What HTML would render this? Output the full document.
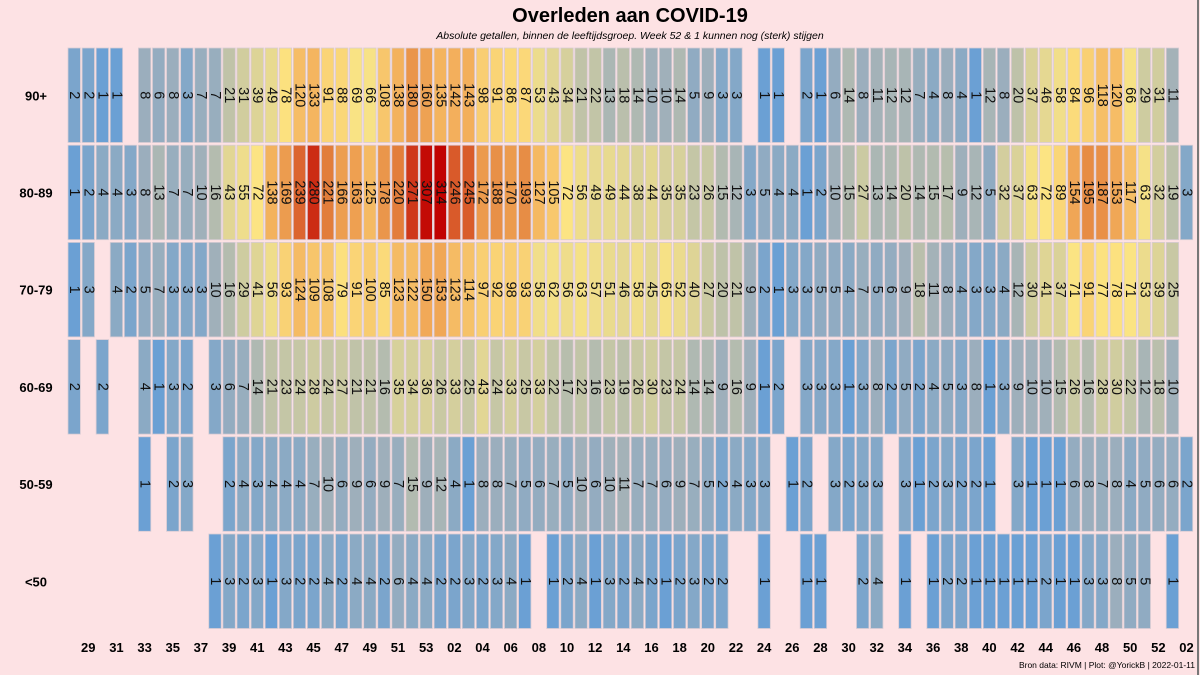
<!DOCTYPE html>
<html><head><meta charset="utf-8"><style>
html,body{margin:0;padding:0;background:#fde2e4;}
svg{display:block;font-family:"Liberation Sans",sans-serif;}
</style></head><body>
<svg id="chart" width="1200" height="675" viewBox="0 0 1200 675">
<rect x="0" y="0" width="1200" height="675" fill="#fde2e4"/>
<line x1="1198" y1="0" x2="1198" y2="675" stroke="#777" stroke-width="2"/>
<text x="630" y="22" text-anchor="middle" font-size="20" font-weight="bold">Overleden aan COVID-19</text>
<text x="630" y="39" text-anchor="middle" font-size="10.5" font-style="italic">Absolute getallen, binnen de leeftijdsgroep. Week 52 &amp; 1 kunnen nog (sterk) stijgen</text>
<text x="1195" y="668" text-anchor="end" font-size="8.5">Bron data: RIVM | Plot: @YorickB |  2022-01-11</text>
<g id="cells"></g>
<g id="labels"></g>
</svg>
<script>
const N = null;
const weeks = [28,29,30,31,32,33,34,35,36,37,38,39,40,41,42,43,44,45,46,47,48,49,50,51,52,53,
 1,2,3,4,5,6,7,8,9,10,11,12,13,14,15,16,17,18,19,20,21,22,23,24,25,26,27,28,29,30,31,32,33,34,35,36,37,38,39,40,41,42,43,44,45,46,47,48,49,50,51,52,1,2];
const ageGroups = ["90+","80-89","70-79","60-69","50-59","<50"];
const row90 = [2,2,1,1,N,8,6,8,3,7,7,21,31,39,49,78,120,133,91,88,69,66,108,138,180,160,
 135,142,143,98,91,86,87,53,43,34,21,22,13,18,14,10,10,14,5,9,3,3,N,1,1,N,2,1,6,14,8,11,12,12,7,4,8,4,1,12,8,20,37,46,58,84,96,118,120,66,29,31,11,N];
const row80 = [1,2,4,4,3,8,13,7,7,10,16,43,55,72,138,169,239,280,221,166,163,125,178,220,271,307,
 314,246,245,172,188,170,193,127,105,72,56,49,49,44,38,44,35,35,23,26,15,12,3,5,4,4,1,2,10,15,27,13,14,20,14,15,17,9,12,5,32,37,63,72,89,154,195,187,153,117,63,32,19,3];
const row70 = [1,3,N,4,2,5,7,3,3,3,10,16,29,41,56,93,124,109,108,79,91,100,85,123,122,150,
 153,123,114,97,92,98,93,58,62,56,63,57,51,46,58,45,65,52,40,27,20,21,9,2,1,3,3,5,5,4,7,5,6,9,18,11,8,4,3,3,4,12,30,41,37,71,91,77,78,71,53,39,25,N];
const row60 = [2,N,2,N,N,4,1,3,2,N,3,6,7,14,21,23,24,28,24,27,21,21,16,35,34,36,
 26,33,25,43,24,33,25,33,22,17,22,16,23,19,26,30,23,24,14,14,9,16,9,1,2,N,3,3,3,1,3,8,2,5,2,4,5,3,8,1,3,9,10,10,15,26,16,28,30,22,12,18,10,N];
const row50 = [N,N,N,N,N,1,N,2,3,N,N,2,4,3,4,4,4,7,10,6,9,6,9,7,15,9,
 12,4,1,8,8,7,5,6,7,5,10,6,10,11,7,7,6,9,7,5,2,4,3,3,N,1,2,N,3,2,3,3,N,3,1,2,3,2,2,1,N,3,1,1,1,6,8,7,8,4,5,6,6,2];
const rowU50 = [N,N,N,N,N,N,N,N,N,N,1,3,2,3,1,3,2,2,4,2,4,4,2,6,4,4,
 2,2,3,2,3,4,1,N,1,2,4,1,3,2,4,2,1,2,3,2,2,N,N,1,N,N,1,1,N,N,2,4,N,1,N,1,2,2,1,1,1,1,1,2,1,1,3,3,8,5,5,N,1,N];
const seriesRows = [row90,row80,row70,row60,row50,rowU50];

const NS="http://www.w3.org/2000/svg";
const x0=68, pitch=14.08, barW=12.4, y0=48, rowPitch=97.2, barH=94.5;
function xPos(i){return x0+i*pitch;}
function yPos(r){return y0+r*rowPitch;}
const stops=[[0,[107,160,212]],[1,[160,176,186]],[1.5,[210,206,158]],[1.87,[253,229,130]],[2.15,[243,176,92]],[2.35,[226,124,58]],[2.5,[192,0,0]]];
function color(v){
  const l=Math.log10(v);
  for(let k=1;k<stops.length;k++){
    if(l<=stops[k][0]||k===stops.length-1){
      const a=stops[k-1],b=stops[k];
      let t=(l-a[0])/(b[0]-a[0]); t=Math.max(0,Math.min(1,t));
      const c=a[1].map((q,j)=>Math.round(q+(b[1][j]-q)*t));
      return `rgb(${c[0]},${c[1]},${c[2]})`;
    }
  }
}
const cells=document.getElementById('cells');
const labels=document.getElementById('labels');
seriesRows.forEach((row,r)=>{
  const lab=document.createElementNS(NS,'text');
  
  
  lab.setAttribute('x',36);lab.setAttribute('y',yPos(r)+barH/2+5);
  lab.setAttribute('text-anchor','middle');lab.setAttribute('font-size','13');lab.setAttribute('font-weight','bold');
  lab.textContent=ageGroups[r];labels.appendChild(lab);
  row.forEach((v,i)=>{
    if(v===null) return;
    const rc=document.createElementNS(NS,'rect');
    
    
    rc.setAttribute('x',xPos(i));rc.setAttribute('y',yPos(r));
    rc.setAttribute('width',barW);rc.setAttribute('height',barH);
    rc.setAttribute('fill',color(v));rc.setAttribute('stroke','#d8ccd4');rc.setAttribute('stroke-width','0.8');
    cells.appendChild(rc);
    const cx=xPos(i)+barW/2, cy=yPos(r)+barH/2;
    const t=document.createElementNS(NS,'text');
    
    
    t.setAttribute('x',cx);t.setAttribute('y',cy);
    t.setAttribute('text-anchor','middle');t.setAttribute('dominant-baseline','central');
    t.setAttribute('font-size','14.5');t.setAttribute('fill','#111');
    t.setAttribute('transform',`rotate(90 ${cx} ${cy})`);
    t.textContent=v;cells.appendChild(t);
  });
});
weeks.forEach((w,i)=>{
  if(i%2!==1) return;
  const t=document.createElementNS(NS,'text');
  
  
  t.setAttribute('x',xPos(i)+barW/2);t.setAttribute('y',652);
  t.setAttribute('text-anchor','middle');t.setAttribute('font-size','13');t.setAttribute('font-weight','bold');
  t.textContent=String(w).padStart(2,'0');labels.appendChild(t);
});
</script>
</body></html>
